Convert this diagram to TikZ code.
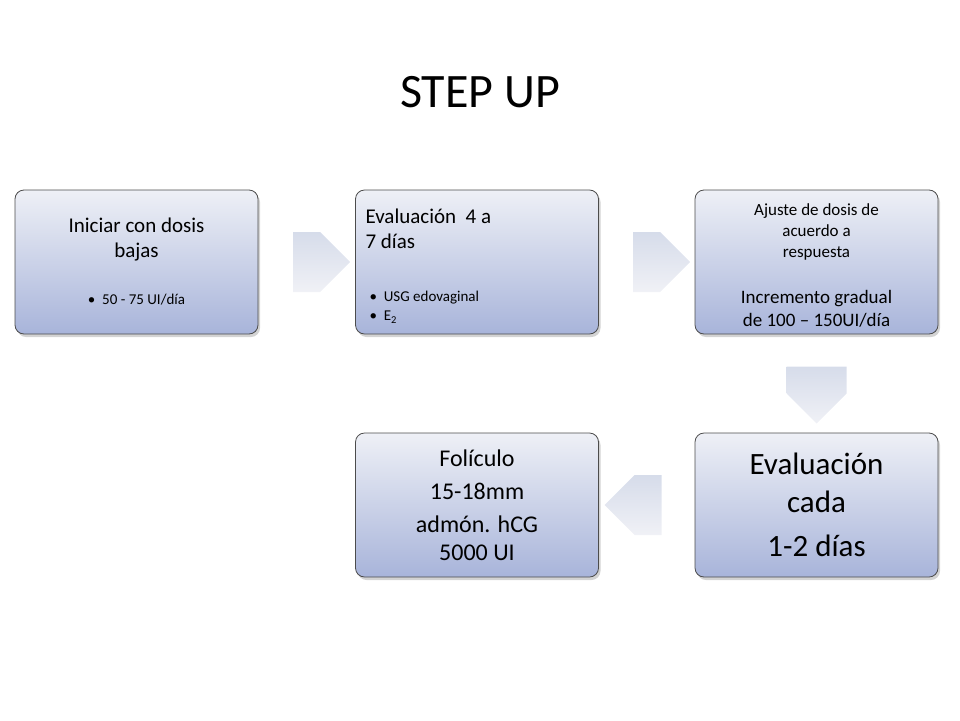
\documentclass[tikz,border=0pt]{standalone}
\usepackage{fontspec}
\setmainfont{Carlito}
\usetikzlibrary{shapes.arrows,shadows}
\definecolor{boxtop}{RGB}{238,240,246}
\definecolor{boxbot}{RGB}{168,180,218}
\definecolor{arrtop}{RGB}{214,220,234}
\definecolor{arrbot}{RGB}{240,241,246}

\tikzset{
  stepbox/.style={rectangle, rounded corners=9pt, draw=black!70, line width=0.8pt,
    top color=boxtop, bottom color=boxbot, minimum width=243pt, minimum height=144pt,
    align=center, drop shadow={opacity=0.35, shadow xshift=2pt, shadow yshift=-3pt}},
  bigarrow/.style={single arrow, draw=none, top color=arrtop, bottom color=arrbot,
    minimum height=57pt, minimum width=60pt, single arrow head extend=0pt,
    shape border uses incircle, inner sep=0pt, single arrow tip angle=90}
}

\begin{document}
\begin{tikzpicture}[x=1pt, y=-1pt]
\useasboundingbox (0,0) rectangle (960,720);
% Title
\node[font=\fontsize{48}{56}\selectfont] (title) at (480,92) {STEP UP};

% Boxes
\node[stepbox] (ini) at (136.5,262) {};
\node[font=\fontsize{21}{25}\selectfont, align=center] (inihead) at (136.5,240) {Iniciar con dosis\\bajas};
\node[font=\fontsize{15}{18}\selectfont] (inilist) at (136.5,300) {\textbullet\ \ 50 - 75 UI/día};

\node[stepbox] (eva) at (477,262) {};
\node[font=\fontsize{21}{25}\selectfont, align=left, anchor=north west] (evahead) at (362,205) {Evaluación\ \ 4 a\\7 días};
\node[font=\fontsize{15}{18}\selectfont, align=left, anchor=north west] (evalist) at (366,288) {\textbullet\ \ USG edovaginal\\[1pt]\textbullet\ \ E\textsubscript{2}};

\node[stepbox] (aju) at (816.5,262) {};
\node[font=\fontsize{17}{21}\selectfont, align=center] (ajuhead) at (816.5,232) {Ajuste de dosis de\\acuerdo a\\respuesta};
\node[font=\fontsize{19}{23}\selectfont, align=center] (ajutext) at (816.5,309) {Incremento gradual\\de 100 – 150UI/día};

\node[stepbox] (cada) at (816.5,505) {};
\node[font=\fontsize{31}{38}\selectfont, align=center] (cadatext) at (816.5,505) {Evaluación\\cada\\[6pt]1-2 días};

\node[stepbox] (foli) at (477,505) {};
\node[font=\fontsize{24}{33}\selectfont, align=center] (folitext) at (477,505) {Folículo\\15-18mm\\admón. hCG\\[-5pt]5000 UI};

% Arrows
\node[bigarrow] (a1) at (306.5,262) {};
\node[bigarrow] (a2) at (646.5,262) {};
\node[bigarrow, rotate=-90] (a3) at (816.5,380) {};
\node[bigarrow, rotate=180] (a4) at (648,505) {};
\end{tikzpicture}
\end{document}
